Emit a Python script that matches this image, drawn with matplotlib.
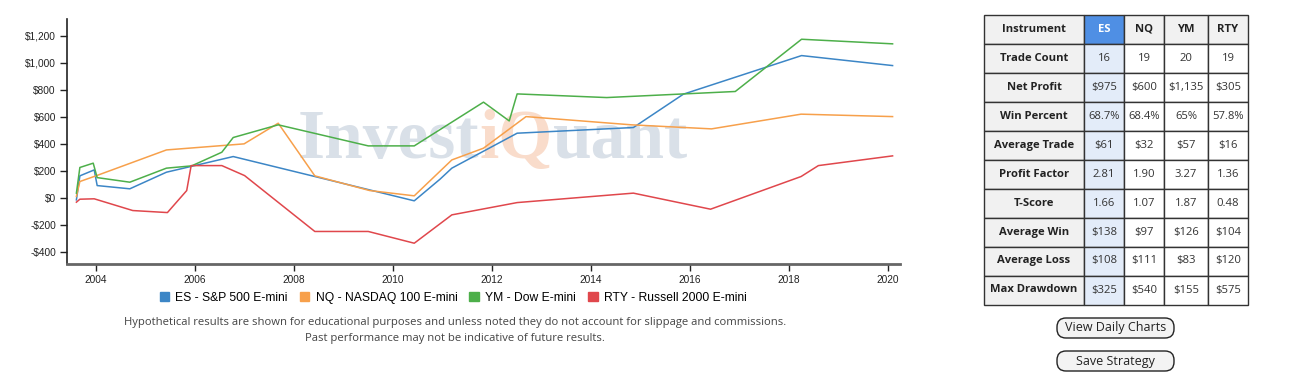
import matplotlib.pyplot as plt
from matplotlib.patches import Patch, Rectangle, FancyBboxPatch
from matplotlib.ticker import FuncFormatter

# Equity curves (decimal year, cumulative $)
es_x = [2003.60, 2003.67, 2003.96, 2004.02, 2004.68, 2005.42, 2006.77, 2010.43,
        2010.95, 2011.19, 2012.51, 2014.86, 2015.87, 2018.26, 2020.10]
es_y = [-15, 163, 207, 91, 67, 190, 306, -22, 138, 220, 479, 521, 768, 1054, 980]

nq_x = [2003.60, 2003.67, 2004.01, 2005.42, 2006.99, 2007.68, 2008.42, 2009.53,
        2010.43, 2011.19, 2011.83, 2012.69, 2014.82, 2016.44, 2018.25, 2020.10]
nq_y = [10, 121, 165, 355, 400, 553, 163, 54, 15, 281, 368, 602, 541, 511, 620, 602]

ym_x = [2003.60, 2003.67, 2003.94, 2004.02, 2004.68, 2005.42, 2005.93, 2006.54,
        2006.77, 2007.68, 2009.50, 2010.43, 2011.83, 2012.35, 2012.51, 2014.32,
        2016.92, 2018.26, 2020.10]
ym_y = [35, 225, 257, 150, 116, 220, 237, 338, 447, 541, 385, 385, 709, 570, 770,
        743, 788, 1175, 1141]

rty_x = [2003.60, 2003.67, 2003.96, 2004.74, 2005.44, 2005.83, 2005.92, 2006.54,
         2007.00, 2008.42, 2009.50, 2010.43, 2011.19, 2012.51, 2014.86, 2016.42,
         2018.25, 2018.60, 2020.10]
rty_y = [-32, -10, -7, -94, -109, 54, 239, 239, 165, -249, -249, -336, -126, -35,
         35, -84, 158, 239, 311]

labels = ['ES - S&P 500 E-mini', 'NQ - NASDAQ 100 E-mini', 'YM - Dow E-mini', 'RTY - Russell 2000 E-mini']
colors = ['#3c86c6', '#f7a04b', '#4daf4a', '#e0474c']

# Stats table
instruments = ['ES', 'NQ', 'YM', 'RTY']
metrics = ['Trade Count', 'Net Profit', 'Win Percent', 'Average Trade', 'Profit Factor',
           'T-Score', 'Average Win', 'Average Loss', 'Max Drawdown']
es_stats = ['16', '$975', '68.7%', '$61', '2.81', '1.66', '$138', '$108', '$325']
nq_stats = ['19', '$600', '68.4%', '$32', '1.90', '1.07', '$97', '$111', '$540']
ym_stats = ['20', '$1,135', '65%', '$57', '3.27', '1.87', '$126', '$83', '$155']
rty_stats = ['19', '$305', '57.8%', '$16', '1.36', '0.48', '$104', '$120', '$575']

fig = plt.figure(figsize=(13, 3.92), dpi=100)
W, H = 1300, 392

# overlay in pixel coords for watermark, table, buttons
ov = fig.add_axes([0, 0, 1, 1], zorder=0)
ov.set_xlim(0, W)
ov.set_ylim(H, 0)
ov.axis('off')

ax = fig.add_axes([67 / W, 1 - 264 / H, (900 - 67) / W, (264 - 19) / H], zorder=1)
ax.set_facecolor('none')

# watermark
t1 = ov.text(298, 158, 'Invest', fontsize=50, family='Liberation Serif', weight='bold',
             color='#d9e0e8', va='baseline', ha='left')
t2 = ov.annotate('iQ', xy=(1, 0), xycoords=t1, va='bottom', ha='left', fontsize=50,
                 family='Liberation Serif', weight='bold', color='#f9dccb')
ov.annotate('uant', xy=(1, 0), xycoords=t2, va='bottom', ha='left', fontsize=50,
            family='Liberation Serif', weight='bold', color='#d9e0e8')

for xs, ys, c in zip([es_x, nq_x, ym_x, rty_x], [es_y, nq_y, ym_y, rty_y], colors):
    ax.plot(xs, ys, color=c, lw=1.1)

ax.set_xlim(2003.41, 2020.25)
ax.set_ylim(-490, 1325)
ax.set_xticks(range(2004, 2021, 2))
ax.set_yticks(range(-400, 1201, 200))
ax.yaxis.set_major_formatter(FuncFormatter(lambda v, p: ('-$' if v < 0 else '$') + f'{abs(int(v)):,}'))
ax.tick_params(labelsize=7.3, length=5, width=1, colors='#222', labelcolor='#222', pad=3)
for s in ['top', 'right']:
    ax.spines[s].set_visible(False)
ax.spines['left'].set_color('#222')
ax.spines['left'].set_linewidth(1.2)
ax.spines['bottom'].set_color('#666')
ax.spines['bottom'].set_linewidth(2)
for lab in ax.get_xticklabels() + ax.get_yticklabels():
    lab.set_family('Liberation Sans')

handles = [Patch(facecolor=c, edgecolor=c) for c in colors]
fig.legend(handles, labels, loc='center', bbox_to_anchor=(453 / W, 1 - 298 / H), ncol=4,
           frameon=False, handlelength=0.8, handleheight=0.8, handletextpad=0.5,
           columnspacing=1.0, prop={'family': 'Liberation Sans', 'size': 8.7})

fig.text(455 / W, 1 - 322 / H, 'Hypothetical results are shown for educational purposes and unless noted they do not account for slippage and commissions.',
         ha='center', va='center', fontsize=8.1, family='Open Sans', color='#444')
fig.text(455 / W, 1 - 338 / H, 'Past performance may not be indicative of future results.',
         ha='center', va='center', fontsize=8.1, family='Open Sans', color='#444')

# table
col_edges = [984, 1084, 1124, 1164, 1208, 1248]
row_top, row_h = 14.5, 29
cols = [es_stats, nq_stats, ym_stats, rty_stats]
header = ['Instrument'] + instruments
for j in range(5):
    x0, x1 = col_edges[j], col_edges[j + 1]
    for i in range(len(metrics) + 1):
        y0 = row_top + i * row_h
        if i == 0:
            fc = '#4f8fe4' if j == 1 else '#f1f1f1'
            txt = header[j]
            tc = 'white' if j == 1 else '#222'
            wt = 'bold'
        elif j == 0:
            fc, txt, tc, wt = '#f1f1f1', metrics[i - 1], '#222', 'bold'
        else:
            fc = '#e3ecf9' if j == 1 else 'white'
            txt, tc, wt = cols[j - 1][i - 1], '#333', 'normal'
        ov.add_patch(Rectangle((x0, y0), x1 - x0, row_h, facecolor=fc, edgecolor='#333', lw=1))
        ov.text((x0 + x1) / 2, y0 + row_h / 2, txt, ha='center', va='center', fontsize=8.1,
                family='Open Sans', weight=wt, color=tc)

# buttons
for label, yc in [('View Daily Charts', 328), ('Save Strategy', 361)]:
    ov.add_patch(FancyBboxPatch((1062, yc - 5), 107, 10, boxstyle='round,pad=5,rounding_size=9',
                                facecolor='#f3f3f3', edgecolor='#222', lw=1))
    ov.text(1115.5, yc, label, ha='center', va='center', fontsize=9, family='Open Sans', color='#222')

fig.savefig('out.png', dpi=100)
